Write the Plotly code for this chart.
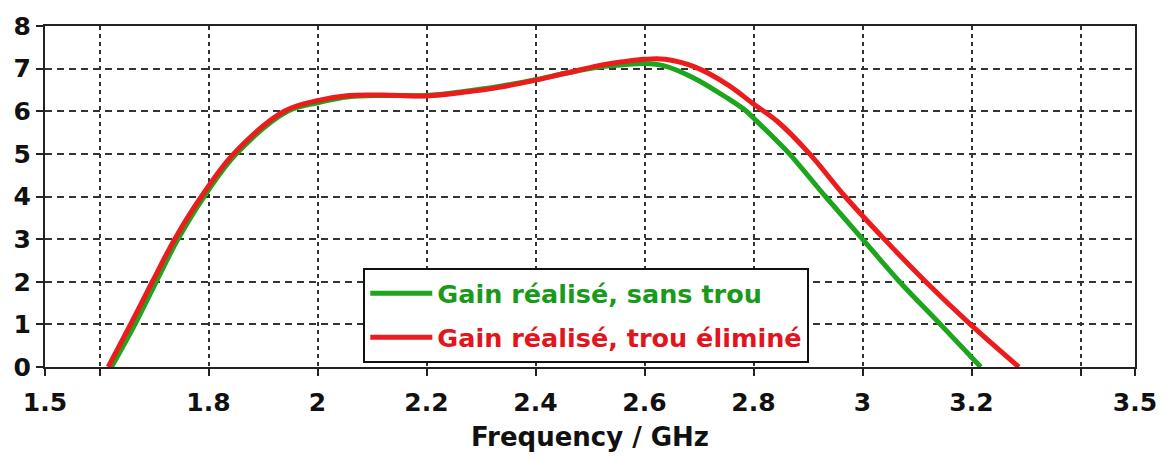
import plotly.graph_objects as go

# Realised gain vs frequency, two antenna variants
freq_sans_trou = [1.622, 1.665, 1.704, 1.744, 1.792, 1.851, 1.945, 2.0, 2.058, 2.12, 2.2,
                  2.272, 2.333, 2.4, 2.455, 2.516, 2.56, 2.6, 2.638, 2.692, 2.753, 2.787,
                  2.8, 2.844, 2.866, 2.932, 3.0, 3.068, 3.143, 3.217]
gain_sans_trou = [0.0, 1.0, 2.0, 3.0, 4.0, 5.0, 6.0, 6.2, 6.34, 6.37, 6.37,
                  6.47, 6.58, 6.74, 6.89, 7.04, 7.09, 7.12, 7.06, 6.77, 6.30, 6.0,
                  5.84, 5.29, 5.0, 4.0, 3.0, 2.0, 1.0, 0.0]

freq_trou_elimine = [1.616, 1.657, 1.697, 1.738, 1.787, 1.846, 1.939, 2.0, 2.058, 2.12, 2.2,
                     2.272, 2.333, 2.4, 2.455, 2.516, 2.56, 2.6, 2.638, 2.692, 2.753, 2.8,
                     2.844, 2.903, 2.968, 3.04, 3.116, 3.198, 3.287]
gain_trou_elimine = [0.0, 1.0, 2.0, 3.0, 4.0, 5.0, 6.0, 6.25, 6.37, 6.38, 6.36,
                     6.45, 6.56, 6.73, 6.89, 7.07, 7.16, 7.22, 7.22, 7.04, 6.62, 6.17,
                     5.76, 5.0, 4.0, 3.0, 2.0, 1.0, 0.0]

x_tick_vals = [1.5, 1.6, 1.8, 2.0, 2.2, 2.4, 2.6, 2.8, 3.0, 3.2, 3.4, 3.5]
x_tick_text = ["1.5", "", "1.8", "2", "2.2", "2.4", "2.6", "2.8", "3", "3.2", "", "3.5"]
y_tick_vals = [0, 1, 2, 3, 4, 5, 6, 7, 8]

GREEN = "#1ea51e"
RED = "#ec1c1c"
FONT = "DejaVu Sans"

fig = go.Figure()
fig.add_trace(go.Scatter(
    x=freq_sans_trou, y=gain_sans_trou, mode="lines",
    line=dict(color=GREEN, width=5, shape="spline", smoothing=1.0),
    name="<b><span style='color:#1a9a1a'>Gain réalisé, sans trou</span></b>",
    legendgroup="a",
))
fig.add_trace(go.Scatter(
    x=freq_trou_elimine, y=gain_trou_elimine, mode="lines",
    line=dict(color=RED, width=5, shape="spline", smoothing=1.0),
    name="<b><span style='color:#e3141c'>Gain réalisé, trou éliminé</span></b>",
    legendgroup="b",
))

fig.update_layout(
    width=1169, height=459,
    margin=dict(l=45, r=31, t=24, b=92),
    paper_bgcolor="white", plot_bgcolor="white",
    font=dict(family=FONT, color="#111111"),
    showlegend=True,
    legend=dict(
        x=0.292, y=0.29, xanchor="left", yanchor="top",
        bgcolor="white", bordercolor="#111111", borderwidth=2,
        font=dict(family=FONT, size=25.5),
        traceorder="grouped", tracegroupgap=8,
        itemwidth=62,
    ),
    xaxis=dict(
        range=[1.5, 3.5], tickmode="array", tickvals=x_tick_vals, ticktext=x_tick_text,
        showline=True, linecolor="#222222", linewidth=2, mirror=True,
        ticks="outside", ticklen=7, tickwidth=2, tickcolor="#222222",
        showgrid=True, gridcolor="#333333", gridwidth=2, griddash="4px,4px",
        tickfont=dict(family=FONT, size=25, color="#111111", weight="bold"),
        ticklabelstandoff=5,
        title=dict(text="<b>Frequency / GHz</b>", font=dict(family=FONT, size=26), standoff=12),
        zeroline=False,
    ),
    yaxis=dict(
        range=[0, 8], tickmode="array", tickvals=y_tick_vals,
        showline=True, linecolor="#222222", linewidth=2, mirror=True,
        ticks="outside", ticklen=7, tickwidth=2, tickcolor="#222222",
        showgrid=True, gridcolor="#333333", gridwidth=2, griddash="7px,5px",
        tickfont=dict(family=FONT, size=25, color="#111111", weight="bold"),
        zeroline=False,
    ),
)

fig.write_html("out.html")
